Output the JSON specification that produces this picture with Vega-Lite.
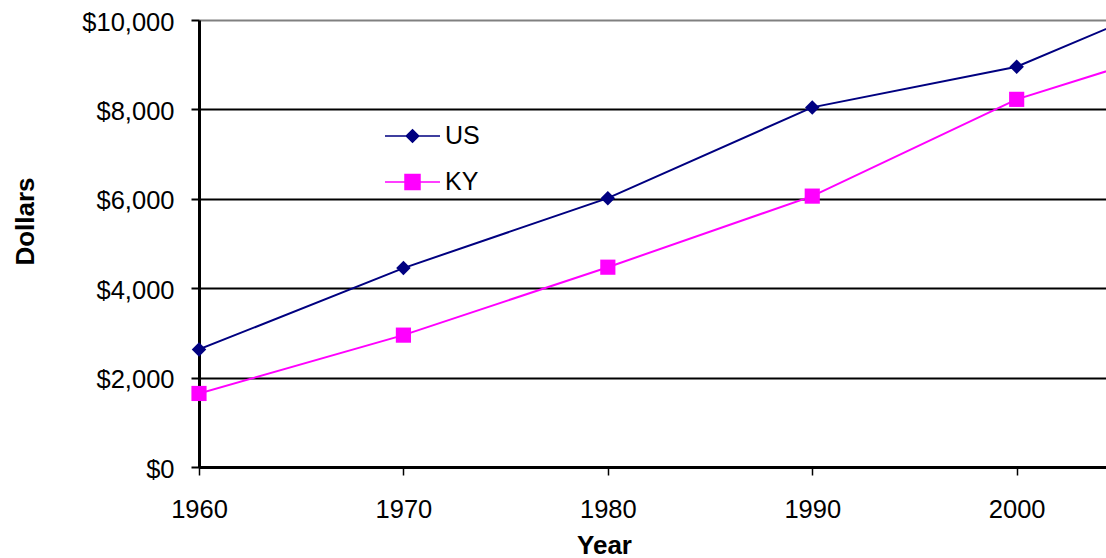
{
  "$schema": "https://vega.github.io/schema/vega-lite/v6.json",
  "width": 907,
  "height": 447,
  "autosize": {"type": "none"},
  "padding": {"left": 199, "top": 20, "right": 0, "bottom": 91},
  "background": "white",
  "config": {
    "view": {"stroke": null},
    "font": "Liberation Sans",
    "axis": {"labelColor": "black", "titleColor": "black", "labelFont": "Liberation Sans", "titleFont": "Liberation Sans"}
  },
  "data": {
    "values": [
      {"year": 1960, "series": "US", "value": 2630},
      {"year": 1970, "series": "US", "value": 4450},
      {"year": 1980, "series": "US", "value": 6015},
      {"year": 1990, "series": "US", "value": 8045},
      {"year": 2000, "series": "US", "value": 8955},
      {"year": 2005, "series": "US", "value": 9920},
      {"year": 1960, "series": "KY", "value": 1645},
      {"year": 1970, "series": "KY", "value": 2950},
      {"year": 1980, "series": "KY", "value": 4470},
      {"year": 1990, "series": "KY", "value": 6060},
      {"year": 2000, "series": "KY", "value": 8225},
      {"year": 2005, "series": "KY", "value": 8940}
    ]
  },
  "encoding": {
    "x": {
      "field": "year",
      "type": "quantitative",
      "scale": {"domain": [1960, 2004.37], "nice": false, "zero": false},
      "axis": {
        "title": "Year",
        "values": [1960, 1970, 1980, 1990, 2000],
        "format": "d",
        "grid": false,
        "domainColor": "black",
        "domainWidth": 3,
        "tickColor": "black",
        "tickWidth": 1.5,
        "tickSize": 8,
        "labelFontSize": 25.5,
        "labelPadding": 22,
        "labelFlush": false,
        "labelOverlap": false,
        "titleFontSize": 26,
        "titleFontWeight": "bold",
        "titleX": 405,
        "titleY": 86,
        "titleBaseline": "alphabetic"
      }
    },
    "y": {
      "field": "value",
      "type": "quantitative",
      "scale": {"domain": [0, 10000], "nice": false},
      "axis": {
        "title": "Dollars",
        "values": [0, 2000, 4000, 6000, 8000, 10000],
        "format": "$,.0f",
        "grid": true,
        "gridColor": {"condition": {"test": "datum.value == 10000", "value": "#808080"}, "value": "black"},
        "gridWidth": 2,
        "gridOpacity": 1,
        "domainColor": "black",
        "domainWidth": 3,
        "tickColor": "black",
        "tickWidth": 2,
        "tickSize": 8,
        "labelFontSize": 25.5,
        "labelPadding": 17,
        "labelOffset": 2,
        "titleFontSize": 26,
        "titleFontWeight": "bold",
        "titleX": -166,
        "titleY": 201,
        "titleAngle": 270,
        "titleAlign": "center",
        "titleBaseline": "alphabetic"
      }
    },
    "color": {
      "field": "series",
      "type": "nominal",
      "scale": {"domain": ["US", "KY"], "range": ["#000080", "#FF00FF"]},
      "legend": {
        "title": null,
        "orient": "none",
        "legendX": 200,
        "legendY": 102.5,
        "padding": 0,
        "symbolSize": 625,
        "symbolStrokeWidth": 1.5,
        "labelFontSize": 25,
        "labelColor": "black",
        "labelFont": "Liberation Sans",
        "labelOffset": 19,
        "rowPadding": 19,
        "encode": {
          "symbols": {
            "update": {
              "shape": {"signal": "datum.value === 'US' ? 'M-2.2,0H2.2M0,-0.5L0.5,0L0,0.5L-0.5,0Z' : 'M-2.2,0H2.2M-0.6,-0.6H0.6V0.6H-0.6Z'"},
              "fill": {"signal": "datum.value === 'US' ? '#000080' : '#FF00FF'"},
              "stroke": {"signal": "datum.value === 'US' ? '#000080' : '#FF00FF'"},
              "strokeWidth": {"value": 1.5},
              "opacity": {"value": 1},
              "fillOpacity": {"value": 1}
            }
          }
        }
      }
    }
  },
  "layer": [
    {
      "mark": {"type": "line", "strokeWidth": 2, "clip": true}
    },
    {
      "transform": [{"filter": "datum.series === 'US' && datum.year <= 2000"}],
      "mark": {"type": "point", "shape": "diamond", "size": 210, "filled": true, "opacity": 1}
    },
    {
      "transform": [{"filter": "datum.series === 'KY' && datum.year <= 2000"}],
      "mark": {"type": "point", "shape": "square", "size": 230, "filled": true, "opacity": 1}
    }
  ]
}
